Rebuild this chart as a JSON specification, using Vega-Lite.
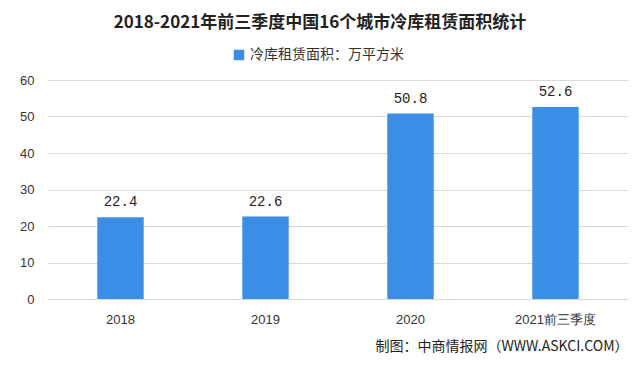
{
  "$schema": "https://vega.github.io/schema/vega-lite/v6.json",
  "autosize": "none",
  "width": 580,
  "height": 219,
  "padding": {"left": 48, "top": 80, "right": 12, "bottom": 66},
  "background": "white",
  "title": {
    "text": "2018-2021年前三季度中国16个城市冷库租赁面积统计",
    "font": "Noto Sans CJK SC",
    "fontSize": 17,
    "fontWeight": "bold",
    "color": "#222222",
    "anchor": "middle",
    "dx": -18,
    "offset": 16
  },
  "data": {
    "values": [
      {"year": "2018", "value": 22.4, "series": "冷库租赁面积：万平方米"},
      {"year": "2019", "value": 22.6, "series": "冷库租赁面积：万平方米"},
      {"year": "2020", "value": 50.8, "series": "冷库租赁面积：万平方米"},
      {"year": "2021前三季度", "value": 52.6, "series": "冷库租赁面积：万平方米"}
    ]
  },
  "encoding": {
    "x": {
      "field": "year",
      "type": "nominal",
      "sort": null,
      "scale": {"paddingInner": 0.68, "paddingOuter": 0.34},
      "axis": {
        "title": "制图：中商情报网（WWW.ASKCI.COM）",
        "titleAnchor": "end",
        "titleAlign": "right",
        "titleFont": "Noto Sans CJK SC",
        "titleFontSize": 14,
        "titleFontWeight": "normal",
        "titleColor": "#222222",
        "titlePadding": 13,
        "labelAngle": 0,
        "labelFont": "Liberation Sans",
        "labelFontSize": 13,
        "labelColor": "#333333",
        "labelPadding": 14,
        "ticks": false,
        "domainColor": "#d9d9d9"
      }
    },
    "y": {
      "field": "value",
      "type": "quantitative",
      "scale": {"domain": [0, 60]},
      "axis": {
        "title": null,
        "values": [0, 10, 20, 30, 40, 50, 60],
        "labelFont": "Liberation Sans",
        "labelFontSize": 13,
        "labelColor": "#333333",
        "labelPadding": 14,
        "ticks": false,
        "domain": false,
        "gridColor": "#d9d9d9"
      }
    }
  },
  "layer": [
    {
      "mark": {"type": "bar", "color": "#3a8ee6"},
      "encoding": {
        "color": {
          "field": "series",
          "type": "nominal",
          "scale": {"range": ["#3a8ee6"]},
          "legend": {
            "title": null,
            "orient": "none",
            "legendX": 184,
            "legendY": -32,
            "symbolType": "square",
            "symbolSize": 110,
            "symbolStrokeWidth": 0,
            "labelFont": "Noto Sans CJK SC",
            "labelFontSize": 14,
            "labelColor": "#333333"
          }
        }
      }
    },
    {
      "mark": {"type": "text", "dy": -15, "font": "Liberation Mono", "fontSize": 14, "color": "#222222"},
      "encoding": {
        "text": {"field": "value", "type": "quantitative", "format": ".1f"}
      }
    }
  ],
  "config": {"view": {"stroke": null}}
}
